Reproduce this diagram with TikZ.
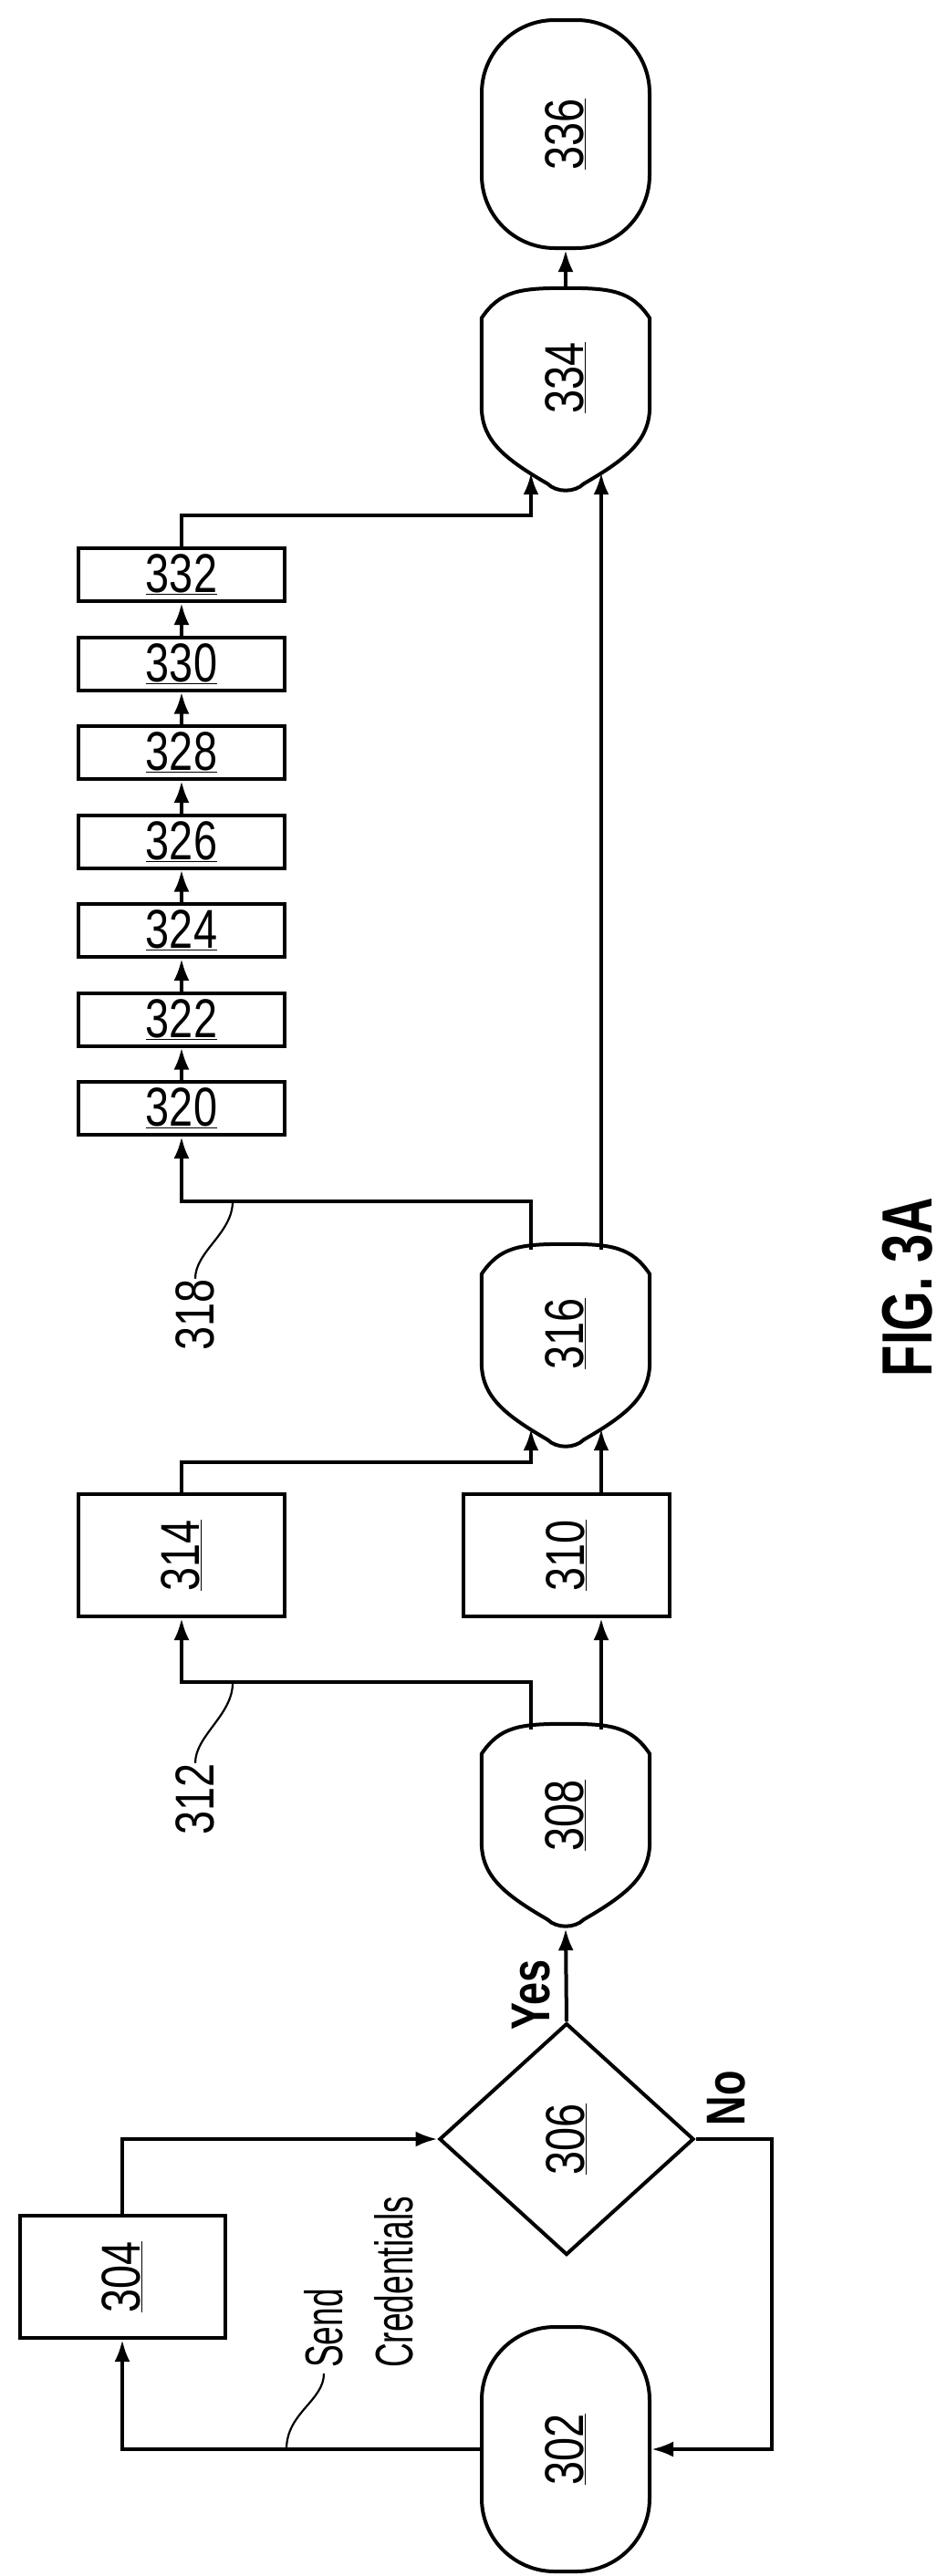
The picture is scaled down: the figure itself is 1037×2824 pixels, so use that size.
\documentclass[tikz,border=0pt]{standalone}
\usepackage{fontspec}
\setmainfont{Liberation Sans}
\usetikzlibrary{shapes.geometric, arrows.meta, positioning, calc}

\newcommand{\refnum}[1]{\underline{\scalebox{0.78}[1]{#1}}}
\newcommand{\tagnum}[1]{\scalebox{0.78}[1]{#1}}
% outline of a shield-like node: arched top, pointed bottom
\newcommand{\shieldpath}[1]{%
  \draw[line width=4pt]
    ($(#1.north west)+(0,33)$) .. controls ($(#1.north west)+(20,3)$) and ($(#1.north)+(-50,0)$) .. (#1.north)
    .. controls ($(#1.north)+(50,0)$) and ($(#1.north east)+(-20,3)$) .. ($(#1.north east)+(0,33)$)
    -- ($(#1.north east)+(0,129)$)
    .. controls ($(#1.south east)+(0,-59)$) and ($(#1.south east)+(-22,-39)$) .. ($(#1.south)+(20,-10)$)
    .. controls ($(#1.south)+(10,0)$) and ($(#1.south)+(-10,0)$) .. ($(#1.south)+(-20,-10)$)
    .. controls ($(#1.south west)+(22,-39)$) and ($(#1.south west)+(0,-59)$) .. ($(#1.north west)+(0,129)$)
    -- cycle;}

\begin{document}
\begin{tikzpicture}[x=1pt, y=-1pt,
  every node/.style={font=\fontsize{60}{66}\selectfont},
  shield/.style={rectangle, minimum width=184pt, minimum height=224pt, inner sep=0pt},
  terminal/.style={rectangle, draw, line width=4pt, rounded corners=80pt, minimum width=184pt, inner sep=0pt},
  box/.style={rectangle, draw, line width=4pt, minimum width=226pt, minimum height=134pt, inner sep=0pt},
  stepbox/.style={rectangle, draw, line width=4pt, minimum width=226pt, minimum height=58pt, inner sep=0pt},
  decision/.style={diamond, draw, line width=4pt, minimum width=279pt, minimum height=254pt, inner sep=0pt},
  arrow/.style={-{Latex[length=24pt, width=17pt]}, line width=4pt},
  leader/.style={line width=2.2pt},
  tag/.style={rotate=90, inner sep=0pt}
]
  \useasboundingbox (0,0) rectangle (1037,2824);

  \node[terminal, minimum height=268pt] (n302) at (620,2685) {};
  \node[rotate=90] at (n302) {\refnum{302}};
  \node[box, minimum width=225pt] (n304) at (134,2496) {};
  \node[rotate=90] at (n304) {\refnum{304}};
  \node[decision] (n306) at (621,2345) {};
  \node[rotate=90] at (n306) {\refnum{306}};
  \node[shield] (n308) at (620,2002) {};
  \shieldpath{n308}
  \node[rotate=90] at (620,1990) {\refnum{308}};
  \node[box] (n310) at (621,1705) {};
  \node[rotate=90] at (n310) {\refnum{310}};
  \node[box] (n314) at (199,1705) {};
  \node[rotate=90] at (n314) {\refnum{314}};
  \node[shield] (n316) at (620,1476) {};
  \shieldpath{n316}
  \node[rotate=90] at (620,1462) {\refnum{316}};

  \foreach \k/\num in {0/320, 1/322, 2/324, 3/326, 4/328, 5/330, 6/332}
    \node[stepbox] (b\num) at (199, 1215-97.5*\k) {\refnum{\num}};

  \node[shield] (n334) at (620,428) {};
  \shieldpath{n334}
  \node[rotate=90] at (620,414) {\refnum{334}};
  \node[terminal, minimum height=250pt] (n336) at (620,147) {};
  \node[rotate=90] at (n336) {\refnum{336}};

  % connectors
  \draw[arrow] (n302.west) -| (n304.south);
  \draw[arrow] (n304.north) |- (n306.west);
  \draw[arrow] (n306.north) -- (n308.south);
  \draw[arrow] (n306.east) -- ++(83,0) |- (n302.east);
  \draw[arrow] ($(n308.north)+(39,6)$) -- ($(n310.south)+(38,0)$);
  \draw[arrow] ($(n308.north)+(-38,6)$) -- ++(0,-52) -| (n314.south);
  \draw[arrow] ($(n310.north)+(38,0)$) -- ($(n316.south)+(39,-22)$);
  \draw[arrow] (n314.north) -- ++(0,-33) -| ($(n316.south)+(-38,-22)$);
  \draw[arrow] ($(n316.north)+(-38,6)$) -- ++(0,-53) -| (b320.south);
  \draw[arrow] ($(n316.north)+(39,6)$) -- ($(n334.south)+(39,-22)$);
  \foreach \a/\b in {320/322, 322/324, 324/326, 326/328, 328/330, 330/332}
    \draw[arrow] (b\a.north) -- (b\b.south);
  \draw[arrow] (b332.north) -- ++(0,-34) -| ($(n334.south)+(-38,-22)$);
  \draw[arrow] (n334.north) -- (n336.south);

  % labels
  \node[tag, font=\fontsize{60}{66}\selectfont\bfseries] (yes) at (582,2187) {\scalebox{0.75}[1]{Yes}};
  \node[tag, font=\fontsize{60}{66}\selectfont\bfseries] (no) at (796,2300) {\scalebox{0.75}[1]{No}};
  \node[tag] (t312) at (214,1972) {\tagnum{312}};
  \node[tag] (t318) at (214,1441) {\tagnum{318}};
  \coordinate (c312) at (255,1845);
  \coordinate (c318) at (255,1317);
  \draw[leader] (c312) .. controls +(0,35) and +(0,-30) .. (t312.east);
  \draw[leader] (c318) .. controls +(0,35) and +(0,-30) .. (t318.east);
  \node[tag, anchor=north west, align=left, font=\fontsize{58}{77}\selectfont] (tsend) at (333,2596) {\scalebox{0.64}[1]{Send}\\\scalebox{0.64}[1]{Credentials}};
  \coordinate (csend) at (314,2685);
  \draw[leader] (csend) .. controls +(0,-40) and +(0,30) .. ($(tsend.north west)+(22,6)$);
  \node[tag, font=\fontsize{78}{80}\selectfont\bfseries] (fig) at (995,1411) {\scalebox{0.72}[1]{FIG. 3A}};
\end{tikzpicture}
\end{document}
